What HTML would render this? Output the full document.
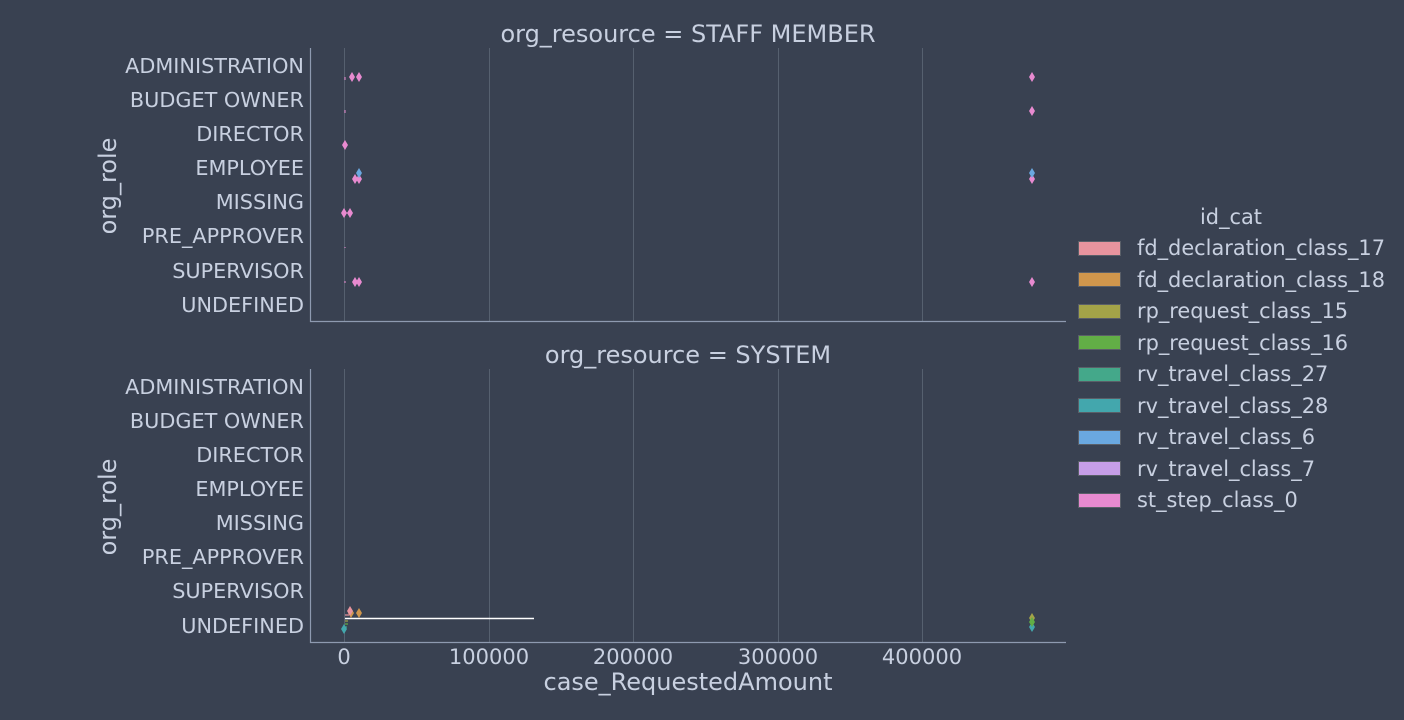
<!DOCTYPE html>
<html><head><meta charset="utf-8"><style>
html,body{margin:0;padding:0;background:#394151;}
svg{display:block;font-family:"DejaVu Sans","Liberation Sans",sans-serif;}
</style></head><body>
<svg width="1404" height="720" viewBox="0 0 1404 720" xmlns="http://www.w3.org/2000/svg">
<rect width="1404" height="720" fill="#394151"/>
<defs>
<g id="d"><path d="M0,-5 L3,0 L0,5 L-3,0 Z"/></g>
</defs>
<g stroke="#56606f" stroke-width="1">
<line x1="344.5" y1="48" x2="344.5" y2="321"/><line x1="489.5" y1="48" x2="489.5" y2="321"/><line x1="633.5" y1="48" x2="633.5" y2="321"/><line x1="778.5" y1="48" x2="778.5" y2="321"/><line x1="922.5" y1="48" x2="922.5" y2="321"/>
<line x1="344.5" y1="369" x2="344.5" y2="642"/><line x1="489.5" y1="369" x2="489.5" y2="642"/><line x1="633.5" y1="369" x2="633.5" y2="642"/><line x1="778.5" y1="369" x2="778.5" y2="642"/><line x1="922.5" y1="369" x2="922.5" y2="642"/>
</g>
<g stroke="#8e9ab0" stroke-width="1.2" fill="none">
<polyline points="310.5,48 310.5,321.5 1066,321.5"/>
<polyline points="310.5,369 310.5,642.5 1066,642.5"/>
</g>
<g fill="#c8d0e0" font-size="20.8">
<text x="688" y="42" text-anchor="middle" font-size="24">org_resource = STAFF MEMBER</text>
<text x="688" y="363" text-anchor="middle" font-size="24">org_resource = SYSTEM</text>
<g text-anchor="end">
<text x="304" y="73">ADMINISTRATION</text><text x="304" y="107">BUDGET OWNER</text><text x="304" y="141">DIRECTOR</text><text x="304" y="175">EMPLOYEE</text><text x="304" y="209">MISSING</text><text x="304" y="243">PRE_APPROVER</text><text x="304" y="278">SUPERVISOR</text><text x="304" y="312">UNDEFINED</text>
<text x="304" y="394">ADMINISTRATION</text><text x="304" y="428">BUDGET OWNER</text><text x="304" y="462">DIRECTOR</text><text x="304" y="496">EMPLOYEE</text><text x="304" y="530">MISSING</text><text x="304" y="564">PRE_APPROVER</text><text x="304" y="598">SUPERVISOR</text><text x="304" y="633">UNDEFINED</text>
</g>
<text transform="translate(116,186) rotate(-90)" text-anchor="middle" font-size="24">org_role</text>
<text transform="translate(116,507) rotate(-90)" text-anchor="middle" font-size="24">org_role</text>
<g text-anchor="middle" font-size="21">
<text x="344" y="664">0</text><text x="489" y="664">100000</text><text x="633" y="664">200000</text><text x="778" y="664">300000</text><text x="922" y="664">400000</text>
</g>
<text x="688" y="690" text-anchor="middle" font-size="24">case_RequestedAmount</text>
<g font-size="20.9">
<text x="1231" y="224" text-anchor="middle">id_cat</text>
<text x="1137" y="255">fd_declaration_class_17</text>
<text x="1137" y="287">fd_declaration_class_18</text>
<text x="1137" y="318">rp_request_class_15</text>
<text x="1137" y="350">rp_request_class_16</text>
<text x="1137" y="381">rv_travel_class_27</text>
<text x="1137" y="413">rv_travel_class_28</text>
<text x="1137" y="444">rv_travel_class_6</text>
<text x="1137" y="476">rv_travel_class_7</text>
<text x="1137" y="507">st_step_class_0</text>
</g>
</g>
<g stroke="#5a5f68" stroke-width="1">
<rect x="1078.5" y="241.5" width="42" height="14" fill="#e8949e"/>
<rect x="1078.5" y="272.5" width="42" height="14" fill="#d0964c"/>
<rect x="1078.5" y="304.5" width="42" height="14" fill="#a3a348"/>
<rect x="1078.5" y="335.5" width="42" height="14" fill="#62ae46"/>
<rect x="1078.5" y="367.5" width="42" height="14" fill="#44a88a"/>
<rect x="1078.5" y="398.5" width="42" height="14" fill="#43a7ad"/>
<rect x="1078.5" y="430.5" width="42" height="14" fill="#6aa8e0"/>
<rect x="1078.5" y="461.5" width="42" height="14" fill="#c79ee8"/>
<rect x="1078.5" y="493.5" width="42" height="14" fill="#e88ad0"/>
</g>
<g fill="#e88ad0">
<use href="#d" x="352" y="77"/><use href="#d" x="359" y="77"/><use href="#d" x="1032" y="77"/>
<use href="#d" x="1032" y="111"/>
<use href="#d" x="345" y="145"/>
<use href="#d" x="355" y="179"/><use href="#d" x="359" y="179"/><use href="#d" x="1032" y="179"/>
<use href="#d" x="344" y="213"/><use href="#d" x="350" y="213"/>
<use href="#d" x="355" y="282"/><use href="#d" x="359" y="282"/><use href="#d" x="1032" y="282"/>
</g>
<g fill="#6aa8e0"><use href="#d" x="359" y="173"/><use href="#d" x="1032" y="173"/></g>
<g stroke="#e88ad0" stroke-width="1"><line x1="344" y1="213" x2="350" y2="213"/><line x1="345" y1="77" x2="345" y2="80"/><line x1="345" y1="110" x2="345" y2="113"/><line x1="345" y1="247" x2="345" y2="248"/><line x1="345" y1="281" x2="345" y2="283"/></g>
<line x1="345" y1="618.5" x2="534" y2="618.5" stroke="#ffffff" stroke-width="1.5"/>
<g fill="#d0964c"><use href="#d" x="351" y="613"/><use href="#d" x="359" y="613"/></g>
<g fill="#e8949e"><use href="#d" x="350" y="611"/></g>
<g stroke-width="1.2">
<line x1="345" y1="615" x2="349" y2="615" stroke="#e8949e"/>
<line x1="345" y1="621" x2="348" y2="621" stroke="#a3a348"/>
<line x1="345" y1="624" x2="348" y2="624" stroke="#62ae46"/>
<line x1="345" y1="627" x2="347" y2="627" stroke="#44a88a"/>
</g>
<g fill="#43a7ad"><use href="#d" x="344" y="629"/><use href="#d" x="1032" y="627"/></g>
<g fill="#a3a348"><use href="#d" x="1032" y="618"/></g>
<g fill="#62ae46"><use href="#d" x="1032" y="622"/></g>
</svg>
</body></html>
